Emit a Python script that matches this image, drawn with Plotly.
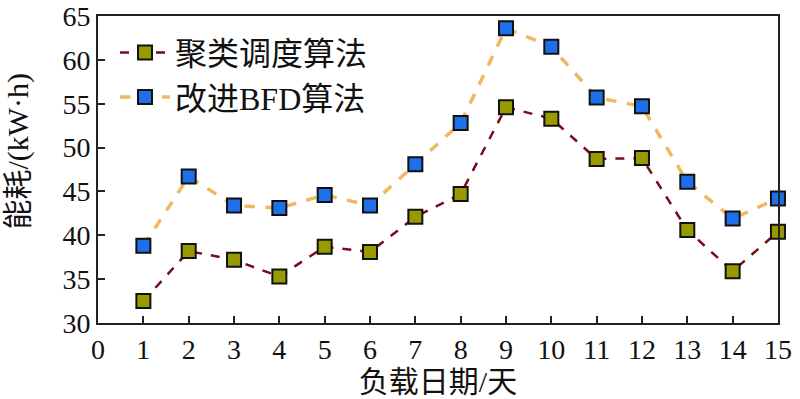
import plotly.graph_objects as go

days = list(range(1, 16))
cluster = [32.5, 38.2, 37.2, 35.3, 38.7, 38.1, 42.1, 44.7, 54.6, 53.3, 48.7, 48.8, 40.6, 35.9, 40.4]
bfd = [38.8, 46.7, 43.4, 43.1, 44.6, 43.4, 48.1, 52.8, 63.6, 61.5, 55.7, 54.7, 46.1, 41.9, 44.2]
names = ["聚类调度算法", "改进BFD算法"]
xticks = list(range(0, 16))
yticks = list(range(30, 66, 5))

FONT = "Liberation Serif, Noto Sans CJK SC, serif"

fig = go.Figure()
fig.add_trace(go.Scatter(
    x=days, y=cluster, name=names[0], mode="lines+markers",
    line=dict(color="#7a0c18", width=2.5, dash="dash"),
    marker=dict(symbol="square", size=14, color="#999900", line=dict(color="#111", width=2)),
    cliponaxis=False,
))
fig.add_trace(go.Scatter(
    x=days, y=bfd, name=names[1], mode="lines+markers",
    line=dict(color="#f0b860", width=3.5, dash="dash"),
    marker=dict(symbol="square", size=14, color="#1f6fe8", line=dict(color="#111", width=2)),
    cliponaxis=False,
))

axis_common = dict(
    showline=True, linecolor="#222", linewidth=2, mirror=True,
    ticks="inside", ticklen=7, tickwidth=2, tickcolor="#222",
    showgrid=False, zeroline=False, automargin=False,
    tickfont=dict(family=FONT, size=28, color="#111"),
)
fig.update_xaxes(range=[-0.001, 15.001], tickvals=xticks,
                 title=dict(text="负载日期/天", font=dict(family=FONT, size=30, color="#111"), standoff=4),
                 **axis_common)
fig.update_yaxes(range=[30, 65], tickvals=yticks,
                 ticklabeloverflow="allow", **axis_common)

fig.add_annotation(text="能耗/(kW·h)", textangle=-90, xref="paper", yref="paper",
                   x=-0.117, y=0.56, xanchor="center", yanchor="middle", showarrow=False,
                   font=dict(family=FONT, size=30, color="#111"))

fig.update_layout(
    width=800, height=399,
    margin=dict(l=98, r=22, t=16, b=76),
    paper_bgcolor="white", plot_bgcolor="white",
    showlegend=True,
    legend=dict(x=0.025, y=0.97, xanchor="left", yanchor="top",
                font=dict(family=FONT, size=32, color="#111"),
                bgcolor="rgba(255,255,255,0)", itemwidth=50, tracegroupgap=0),
    font=dict(family=FONT),
)
fig.write_html("out.html")
